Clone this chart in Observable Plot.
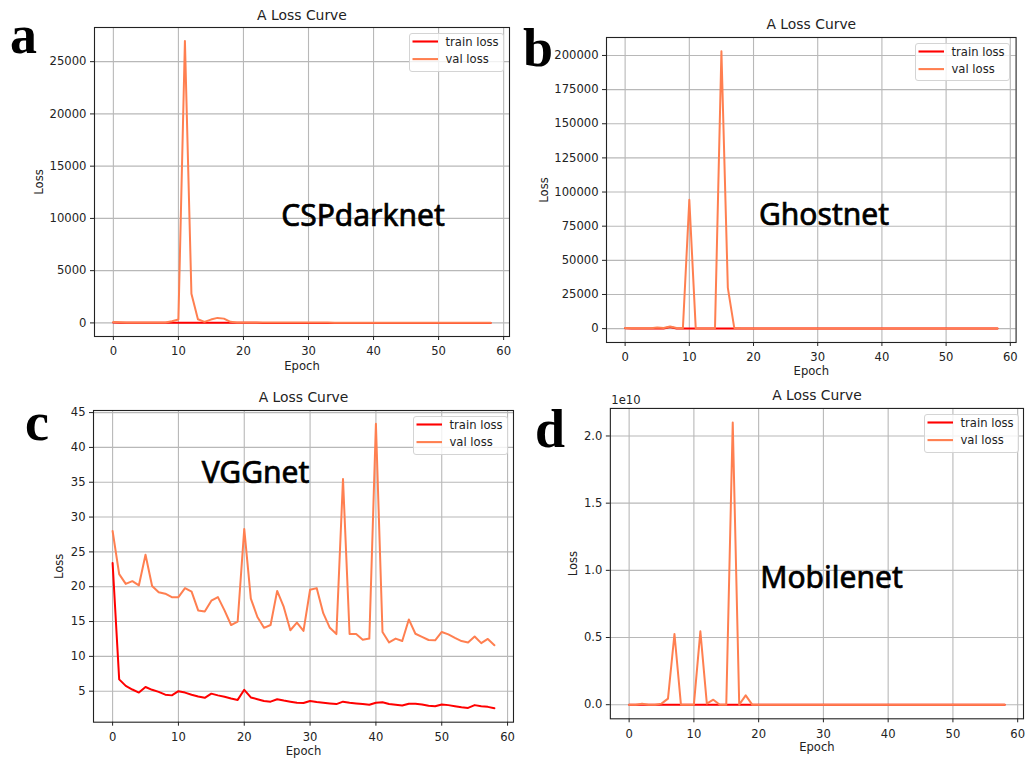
<!DOCTYPE html>
<html><head><meta charset="utf-8">
<script src="https://cdn.jsdelivr.net/npm/d3@7"></script>
<script src="https://cdn.jsdelivr.net/npm/@observablehq/plot@0.6"></script>
<style>
body{margin:0;background:#fff;}
#root{position:relative;width:1027px;height:762px;overflow:hidden;background:#fff;}
.panel{position:absolute;}
.legend{position:absolute;box-sizing:border-box;border:1px solid #d4d4d4;border-radius:3px;background:rgba(255,255,255,0.8);}
#overlay{position:absolute;left:0;top:0;pointer-events:none;}
</style></head><body><div id="root"></div>
<script>
// ---------- data ----------
const epochs = [0,1,2,3,4,5,6,7,8,9,10,11,12,13,14,15,16,17,18,19,20,21,22,23,24,25,26,27,28,29,
  30,31,32,33,34,35,36,37,38,39,40,41,42,43,44,45,46,47,48,49,50,51,52,53,54,55,56,57,58];

const seriesNames = ["train loss", "val loss"];
const chartTitle = "A Loss Curve";
const panelLetters = ["a", "b", "c", "d"];
const modelNames = ["CSPdarknet", "Ghostnet", "VGGnet", "Mobilenet"];

const xTicks = [0,10,20,30,40,50,60];
const yTicksA = [0,5000,10000,15000,20000,25000];
const yTicksB = [0,25000,50000,75000,100000,125000,150000,175000,200000];
const yTicksC = [5,10,15,20,25,30,35,40,45];
const yTicksD = [0,0.5e10,1.0e10,1.5e10,2.0e10];

// (a) CSPdarknet
const cspTrain = [30,12,9,8,7,7,6,6,6,5, 5,5,5,5,4,4,4,4,4,4, 4,4,4,3,3,3,3,3,3,3,
  3,3,3,3,3,3,3,3,3,3, 3,3,3,2,2,2,2,2,2,2, 2,2,2,2,2,2,2,2,2];
const cspVal = [80,60,50,45,42,40,38,36,35,160, 320,26970,2800,350,100,320,480,410,100,45,
  40,38,36,35,34,33,32,31,30,30, 29,29,28,28,27,27,26,26,25,25, 25,24,24,23,23,23,22,22,22,21,
  21,21,20,20,20,19,19,19,18];

// (b) Ghostnet
const ghostTrain = [300,150,120,100,90,80,90,1200,80,60, 60,50,50,45,45,40,40,35,35,30,
  30,30,28,28,26,26,25,25,24,24, 23,23,22,22,21,21,20,20,20,19, 19,19,18,18,18,17,17,17,16,16,
  16,16,15,15,15,15,14,14,14];
const ghostVal = [400,300,250,250,300,800,500,1600,400,300, 94300,200,150,150,200,203000,29900,500,200,150,
  120,110,100,100,95,90,90,85,85,80, 80,78,75,75,72,70,70,68,68,65, 65,63,62,60,60,58,58,56,55,55,
  54,53,52,52,50,50,49,48,48];

// (c) VGGnet
const vggTrain = [23.4,6.7,5.76,5.24,4.8,5.6,5.2,4.9,4.5,4.4, 5.0,4.8,4.5,4.25,4.05,4.65,4.4,4.2,3.95,3.75,
  5.2,4.1,3.85,3.6,3.5,3.85,3.65,3.5,3.35,3.3, 3.6,3.45,3.35,3.25,3.15,3.5,3.35,3.25,3.15,3.05,
  3.35,3.4,3.15,3.05,2.95,3.2,3.2,3.1,2.9,2.85, 3.1,3.0,2.85,2.7,2.6,3.0,2.85,2.75,2.55];
const vggVal = [28.0,21.8,20.4,20.8,20.2,24.6,20.1,19.2,19.0,18.5, 18.5,19.8,19.3,16.6,16.45,18.0,18.5,16.6,14.5,15.0,
  28.3,18.3,15.65,14.1,14.5,19.4,17.1,13.75,14.85,13.65, 19.56,19.8,16.2,14.1,13.2,35.45,13.2,13.2,12.4,12.55,
  43.4,13.5,12.0,12.55,12.2,15.3,13.25,12.8,12.35,12.3, 13.5,13.15,12.65,12.2,12.0,12.85,11.9,12.5,11.6];

// (d) Mobilenet
const mobileTrain = [20,7,6,5,5,4,4,4,4,4, 3,3,3,3,3,3,3,3,3,3, 3,3,3,3,3,3,3,3,3,3,
  2,2,2,2,2,2,2,2,2,2, 2,2,2,2,2,2,2,2,2,2, 2,2,2,2,2,2,2,2,2];
const mobileVal = [2e5,1e5,7e7,1e5,1e5,8e7,4.5e8,5.26e9,2e5,1e5, 1e5,5.46e9,8e7,3.7e8,2e5,1e5,2.1e10,2e5,6.9e8,1e5,
  9e4,8e4,8e4,7e4,7e4,6e4,6e4,6e4,5e4,5e4, 5e4,5e4,4e4,4e4,4e4,4e4,4e4,3e4,3e4,3e4,
  3e4,3e4,3e4,3e4,3e4,3e4,3e4,3e4,3e4,3e4, 2e4,2e4,2e4,2e4,2e4,2e4,2e4,2e4,2e4];

// ---------- layout (positions / styles only) ----------
const xDomain = [-2.9, 60.9];
const layout = [
  {frame:[94,27,509,336], yDomain:[-1300,28270], yTicks:yTicksA, train:cspTrain, val:cspVal,
   yLab:60, xLab:33.5, fmt:d=>String(d), letter:[10,52.7], name:[363,226]},
  {frame:[605.7,36.7,1015.3,341.7], yDomain:[-10150,213150], yTicks:yTicksB, train:ghostTrain, val:ghostVal,
   yLab:66.7, xLab:32.8, fmt:d=>String(d), letter:[523,66], name:[824,225]},
  {frame:[93,410,513,721.7], yDomain:[0.55,45.3], yTicks:yTicksC, train:vggTrain, val:vggVal,
   yLab:39, xLab:32.8, fmt:d=>String(d), letter:[25,440], name:[255.5,483]},
  {frame:[610,408,1024,719], yDomain:[-0.105e10,2.205e10], yTicks:yTicksD, train:mobileTrain, val:mobileVal,
   yLab:42, xLab:32.2, fmt:d=>(d/1e10).toFixed(1), offset:"1e10", letter:[535,446.7], name:[831.5,588]}
];
const colors = ["#ff0000", "#ff7f50"];

const root = document.getElementById("root");
const rows = arr => epochs.map((e, i) => ({epoch: e, loss: arr[i]}));

layout.forEach((p, k) => {
  const [x0, y0, x1, y1] = p.frame;
  const mL = 75, mR = 4, mT = Math.min(30, y0), mB = 40;
  const w = x1 - x0 + mL + mR, h = y1 - y0 + mT + mB;
  const gridStyle = {stroke: "#b8b8b8", strokeOpacity: 1, strokeWidth: 1.1};
  const marks = [
    Plot.gridX(xTicks, gridStyle),
    Plot.gridY(p.yTicks, gridStyle),
    Plot.line(rows(p.train), {x: "epoch", y: "loss", stroke: colors[0], strokeWidth: 2, strokeLinejoin: "round"}),
    Plot.line(rows(p.val), {x: "epoch", y: "loss", stroke: colors[1], strokeWidth: 2, strokeLinejoin: "round"}),
    Plot.frame({stroke: "#222", strokeWidth: 1.1}),
    Plot.axisX({ticks: xTicks, tickSize: 4, tickPadding: 6.5, label: "Epoch", labelAnchor: "center",
      labelArrow: "none", labelOffset: p.xLab, tickFormat: d => String(d)}),
    Plot.axisY({ticks: p.yTicks, tickSize: 4, tickPadding: 4, label: "Loss", labelAnchor: "center",
      labelArrow: "none", labelOffset: p.yLab, tickFormat: p.fmt}),
    Plot.text([chartTitle], {text: d => d, frameAnchor: "top", lineAnchor: "bottom", dy: -8, fontSize: 13.9, fill: "#222"})
  ];
  if (p.offset) marks.push(Plot.text([p.offset], {text: d => d, frameAnchor: "top-left", textAnchor: "start",
    lineAnchor: "bottom", dy: -4.7, dx: 1, fill: "#222"}));
  const svg = Plot.plot({
    width: w, height: h, marginLeft: mL, marginRight: mR, marginTop: mT, marginBottom: mB,
    x: {domain: xDomain}, y: {domain: p.yDomain},
    style: {fontFamily: "DejaVu Sans, sans-serif", fontSize: "11.6px", color: "#222", background: "transparent", overflow: "visible"},
    marks
  });
  const div = document.createElement("div");
  div.className = "panel";
  div.style.left = (x0 - mL) + "px";
  div.style.top = (y0 - mT) + "px";
  div.appendChild(svg);
  root.appendChild(div);

  // legend
  const lw = 95, lh = 38.5;
  const leg = document.createElement("div");
  leg.className = "legend";
  leg.style.left = (x1 - 5.5 - lw) + "px";
  leg.style.top = (y0 + 6) + "px";
  leg.style.width = lw + "px";
  leg.style.height = lh + "px";
  const ls = d3.create("svg").attr("width", lw).attr("height", lh)
    .style("position", "absolute").style("left", "-1px").style("top", "-1px").style("overflow", "visible");
  seriesNames.forEach((s, i) => {
    const yy = 8.5 + i * 17.6;
    ls.append("line").attr("x1", 3.5).attr("x2", 29).attr("y1", yy).attr("y2", yy)
      .attr("stroke", colors[i]).attr("stroke-width", 2.1);
    ls.append("text").attr("x", 36.5).attr("y", yy + 4.3).text(s)
      .attr("font-family", "DejaVu Sans, sans-serif").attr("font-size", 11.6).attr("fill", "#222");
  });
  leg.appendChild(ls.node());
  root.appendChild(leg);
});

// overlay annotations: panel letters and model names
const ov = d3.create("svg").attr("id", "overlay").attr("width", 1027).attr("height", 762);
layout.forEach((p, k) => {
  ov.append("text").attr("x", p.letter[0]).attr("y", p.letter[1]).text(panelLetters[k])
    .attr("font-family", "Liberation Serif, Times New Roman, serif").attr("font-weight", "bold")
    .attr("font-size", 54).attr("fill", "#000");
  ov.append("text").attr("x", p.name[0]).attr("y", p.name[1]).text(modelNames[k])
    .attr("text-anchor", "middle").attr("font-family", "Noto Sans, sans-serif")
    .attr("font-size", 30).attr("fill", "#000").attr("stroke", "#000").attr("stroke-width", 0.7);
});
root.appendChild(ov.node());
</script></body></html>
